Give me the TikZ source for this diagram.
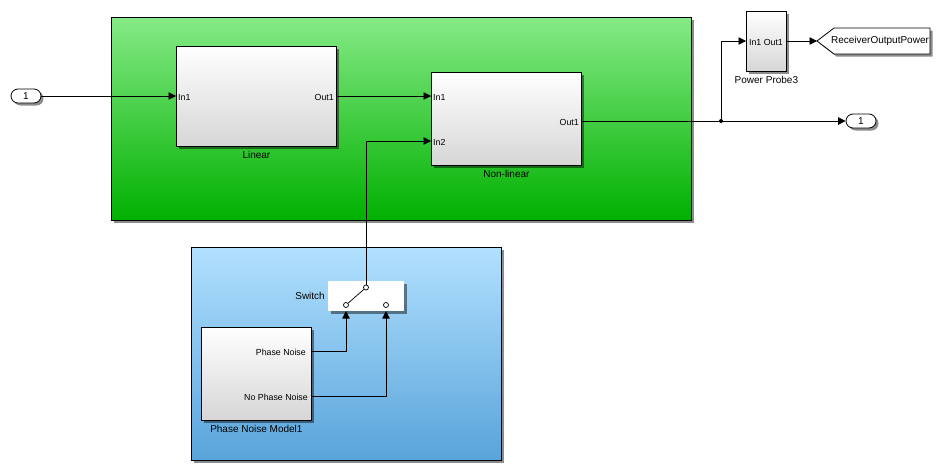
\documentclass[tikz,border=0pt]{standalone}
\usepackage{fontspec}
\setmainfont{Liberation Sans}
\usetikzlibrary{shadows,arrows.meta}
\definecolor{gtop}{RGB}{134,234,134}
\definecolor{gbot}{RGB}{0,176,0}
\definecolor{btop}{RGB}{178,224,255}
\definecolor{bbot}{RGB}{88,164,218}
\definecolor{blkbot}{RGB}{214,214,214}
\begin{document}
\begin{tikzpicture}[x=1pt,y=-1pt,
  shad/.style={drop shadow={shadow xshift=2.5pt,shadow yshift=-2.5pt,opacity=0.45,fill=black}},
  subsys/.style={draw=black,line width=0.8pt,inner sep=0pt,anchor=north west,shad},
  blk/.style={draw=black,line width=0.8pt,inner sep=0pt,anchor=north west,top color=white,bottom color=blkbot,shad},
  plab/.style={font=\fontsize{8.8}{10}\selectfont,inner sep=1pt},
  lab/.style={font=\fontsize{10}{12}\selectfont,inner sep=0pt,anchor=north},
  portsh/.style={draw=black,line width=0.8pt,fill=white,rounded corners=7pt,minimum width=30pt,minimum height=14pt,inner sep=0pt,font=\fontsize{10}{12}\selectfont,shad},
  arr/.style={line width=0.8pt,-{Triangle[length=7.5pt,width=7.5pt]}},
  wire/.style={line width=0.8pt},
  swc/.style={circle,draw=black,line width=0.7pt,fill=white,inner sep=0pt,minimum size=5pt}]
\useasboundingbox (0,0) rectangle (942,471);
% subsystems
\node[subsys,top color=gtop,bottom color=gbot,minimum width=580pt,minimum height=203pt] (green) at (111,17) {};
\node[subsys,top color=btop,bottom color=bbot,minimum width=310pt,minimum height=213pt] (blue) at (191,247) {};
% blocks
\node[blk,minimum width=160pt,minimum height=100pt] (lin) at (176,46) {};
\node[lab] (linlab) at ([yshift=-4pt]lin.south) {Linear};
\node[blk,minimum width=150pt,minimum height=93pt] (nl) at (431,72) {};
\node[lab] (nllab) at ([yshift=-4pt]nl.south) {Non-linear};
\node[blk,minimum width=110pt,minimum height=93pt] (pn) at (201,327) {};
\node[lab] (pnlab) at ([yshift=-4pt]pn.south) {Phase Noise Model1};
\node[blk,minimum width=40pt,minimum height=60pt] (pp) at (746,11) {};
\node[lab] (pplab) at ([yshift=-4pt]pp.south) {Power Probe3};
\node[inner sep=0pt,anchor=north west,fill=white,minimum width=76pt,minimum height=30pt,shad] (sw) at (328,281) {};
\node[lab,anchor=east] (swlab) at (325,296) {Switch};
% port labels
\node[plab,anchor=west] (linin) at (177,97) {In1};
\node[plab,anchor=east] (linout) at (335,97) {Out1};
\node[plab,anchor=west] (nlin1) at (432,97) {In1};
\node[plab,anchor=west] (nlin2) at (432,142) {In2};
\node[plab,anchor=east] (nlout) at (580,122) {Out1};
\node[plab,anchor=east] (pnout1) at (307,352) {Phase Noise};
\node[plab,anchor=east] (pnout2) at (309,397) {No Phase Noise};
\node[plab,inner sep=0pt] (pptxt) at (766,42) {In1 Out1};
% ports
\node[portsh] (in1) at (26,96) {1};
\node[portsh] (out1) at (861,121) {1};
% goto tag
\filldraw[fill=white,draw=black,line width=0.8pt,shad] (817,41) -- (834,28) -- (930,28) -- (930,54) -- (834,54) -- cycle;
\coordinate (gototip) at (817,41);
\node[font=\fontsize{10}{12}\selectfont,inner sep=0pt] (gototxt) at (880,41) {ReceiverOutputPower};
% switch internals
\node[swc] (swa) at (346,305) {};
\node[swc] (swb) at (386,305) {};
\node[swc] (swt) at (366,287.5) {};
\draw[line width=0.7pt] (swa) -- (swt);
% coordinates
\coordinate (linIn) at (176,96);
\coordinate (linOut) at (336,96);
\coordinate (nlIn1) at (431,96);
\coordinate (nlIn2) at (431,141);
\coordinate (nlOut) at (581,121);
\coordinate (junc) at (721,121);
\coordinate (ppIn) at (746,41);
\coordinate (ppOut) at (786,41);
\coordinate (pnO1) at (311,351);
\coordinate (pnO2) at (311,396);
\coordinate (swIn1) at (346,311);
\coordinate (swIn2) at (386,311);
% connectors
\draw[arr] (in1.east) -- (linIn);
\draw[arr] (linOut) -- (nlIn1);
\draw[wire] (nlOut) -- (junc);
\draw[arr] (junc) -- (out1.west);
\draw[arr] (junc) |- (ppIn);
\fill (junc) circle (2pt);
\draw[arr] (ppOut) -- (gototip);
\draw[arr] (swt.north) |- (nlIn2);
\draw[arr] (pnO1) -| (swIn1);
\draw[arr] (pnO2) -| (swIn2);
\end{tikzpicture}
\end{document}
